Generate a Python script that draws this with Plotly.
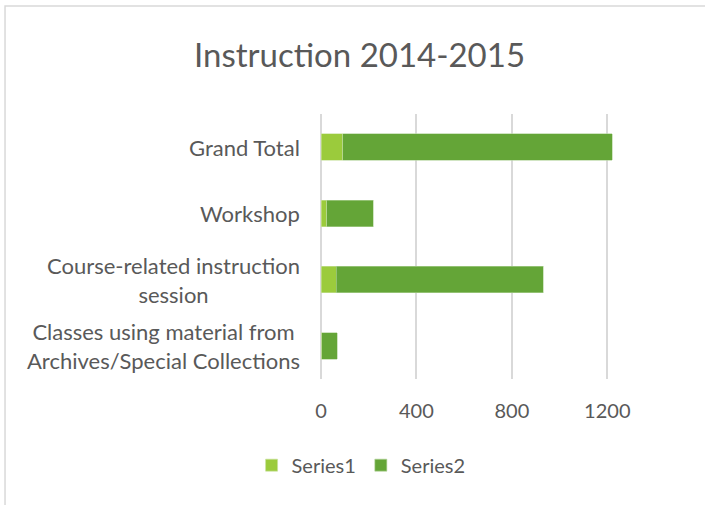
import plotly.graph_objects as go

# categories, bottom to top as drawn
categories = ["Classes using material from<br>Archives/Special Collections",
              "Course-related instruction<br>session",
              "Workshop",
              "Grand Total"]
series1 = [4, 63, 25, 92]
series2 = [65, 868, 195, 1128]
x_ticks = [0, 400, 800, 1200]

TXT = "#595959"
FONT = "Lato"

fig = go.Figure()
fig.add_trace(go.Bar(y=categories, x=series1, name="Series1", orientation="h",
                     marker=dict(color="#9BCB3C", line=dict(color="#C9E3A0", width=0.6))))
fig.add_trace(go.Bar(y=categories, x=series2, name="Series2", orientation="h",
                     marker=dict(color="#64A537", line=dict(color="#B3D49B", width=0.6))))

# category labels as centred multi-line text next to the axis
for c in categories:
    fig.add_annotation(x=0, xref="paper", y=c, yref="y", text=c, showarrow=False,
                       xanchor="right", xshift=-19, align="center",
                       font=dict(family=FONT, size=22, color=TXT))

# chart area border
fig.add_shape(type="rect", xref="paper", yref="paper", x0=-0.946, x1=1.5, y0=-1, y1=1.4075,
              line=dict(color="#D9D9D9", width=1.5), fillcolor="rgba(0,0,0,0)", layer="below")

fig.update_layout(
    width=705, height=505,
    barmode="stack", bargap=0.6,
    paper_bgcolor="white", plot_bgcolor="white",
    margin=dict(l=321, r=50, t=114, b=126),
    title=dict(text="Instruction 2014-2015", x=0.51, xanchor="center", y=0.891, yanchor="middle",
               xref="container", yref="container", font=dict(family=FONT, size=33, color=TXT)),
    font=dict(family=FONT, color=TXT),
    legend=dict(orientation="h", x=0.12, xanchor="center", y=-0.325, yanchor="middle",
                font=dict(family=FONT, size=20, color=TXT), traceorder="normal"),
    showlegend=True,
)
fig.update_xaxes(range=[0, 1400], tickvals=x_ticks, showgrid=True, gridcolor="#D9D9D9", gridwidth=1.5,
                 zeroline=True, zerolinecolor="#D9D9D9", zerolinewidth=1.5, showline=False,
                 tickfont=dict(family=FONT, size=20, color=TXT),
                 ticklabelstandoff=18, fixedrange=True)
fig.update_yaxes(showticklabels=False, showgrid=False, zeroline=False, showline=False, fixedrange=True)

fig.write_html("out.html", config={"displayModeBar": False},
               post_script="document.body.style.margin='0';")
